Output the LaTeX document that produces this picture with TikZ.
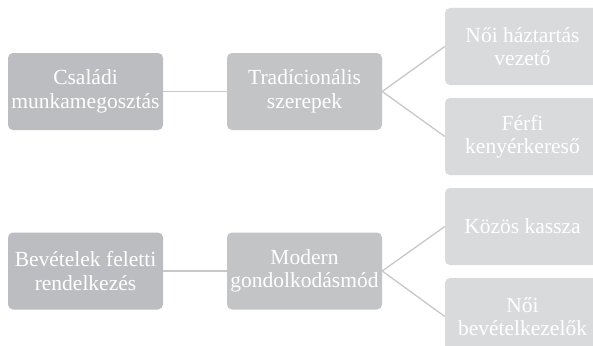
\documentclass[tikz,border=0pt]{standalone}
\usepackage{fontspec}
\setmainfont{Liberation Serif}
\definecolor{lvlone}{HTML}{BCBDC0}
\definecolor{lvltwo}{HTML}{C3C4C6}
\definecolor{lvlthree}{HTML}{D9DADC}
\definecolor{linkgray}{HTML}{C8C8C8}
\begin{document}
\begin{tikzpicture}[x=1pt,y=-1pt,
  box/.style={rounded corners=5pt, minimum width=155pt, minimum height=77pt,
    text=white, align=center, inner sep=0pt,
    font=\fontsize{21.5}{23.5}\selectfont},
  rootbox/.style={box, fill=lvlone},
  midbox/.style={box, fill=lvltwo},
  leafbox/.style={box, fill=lvlthree},
  link/.style={draw=linkgray, line width=1.3pt}]
\useasboundingbox (0,0) rectangle (593,345);
\fill[white] (0,0) rectangle (593,345);
\node[rootbox] (c1) at (85.5,91.5) {Családi\\munkamegosztás};
\node[midbox] (c2) at (304.5,91.5) {Tradícionális\\szerepek};
\node[leafbox] (l1) at (522.5,46.5) {Női háztartás\\vezető};
\node[leafbox] (l2) at (522.5,136.5) {Férfi\\kenyérkereső};
\node[rootbox] (b1) at (85.5,271) {Bevételek feletti\\rendelkezés};
\node[midbox] (b2) at (304.5,271) {Modern\\gondolkodásmód};
\node[leafbox] (l3) at (522.5,226.5) {Közös kassza};
\node[leafbox] (l4) at (522.5,316.5) {Női\\bevételkezelők};
\draw[link] (c1.east) -- (c2.west);
\draw[link] (c2.east) -- (l1.west);
\draw[link] (c2.east) -- (l2.west);
\draw[link] (b1.east) -- (b2.west);
\draw[link] (b2.east) -- (l3.west);
\draw[link] (b2.east) -- (l4.west);
\end{tikzpicture}
\end{document}
